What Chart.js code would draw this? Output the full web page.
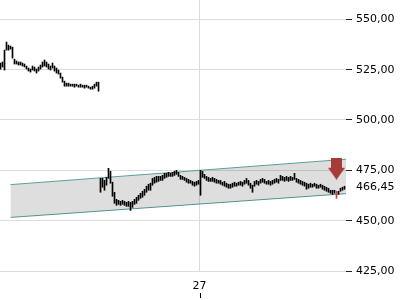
<!DOCTYPE html>
<html>
<head>
<meta charset="utf-8">
<script src="https://cdn.jsdelivr.net/npm/chart.js@4"></script>
<style>
html, body { margin: 0; padding: 0; background: #fff; }
</style>
</head>
<body>
<canvas id="priceChart" width="400" height="300"></canvas>
<script>
// intraday bars, one entry per bar (high / low)
const highs = [
    528.3, 528.8, 534.7, 538.7, 537.2, 536.7, 536.2, 530.2, 529.3, 528.8,
    528.8, 528.3, 527.8, 526.8, 525.8, 525.3, 526.8, 526.3, 525.3, 526.3,
    527.3, 528.8, 529.8, 528.8, 527.8, 526.8, 528.3, 526.8, 525.8, 524.8,
    523.3, 521.3, 519.3, 518.3, 518.3, 517.8, 517.8, 517.8, 517.8, 517.3,
    517.8, 517.3, 517.3, 517.3, 516.8, 516.3, 516.8, 517.8, 518.8, 518.8,
    471.0, 471.0, 470.0, 471.5, 476.0, 474.5, 469.1, 464.1, 460.6, 460.1,
    459.6, 460.1, 459.6, 459.1, 459.6, 459.1, 459.6, 460.6, 461.6, 462.6,
    463.6, 464.6, 465.6, 467.1, 468.1, 468.6, 471.0, 471.5, 472.0, 472.0,
    472.0, 472.5, 473.5, 473.5, 474.0, 473.5, 474.0, 474.5, 475.0, 474.0,
    472.5, 472.0, 471.5, 471.0, 470.5, 470.0, 469.5, 469.1, 469.5, 470.0,
    475.0, 474.5, 473.0, 472.0, 471.5, 471.0, 471.5, 471.0, 470.5, 470.0,
    470.0, 469.1, 469.5, 468.6, 468.1, 468.1, 468.6, 469.1, 468.6, 469.1,
    469.5, 469.1, 470.0, 471.0, 470.0, 468.6, 467.6, 469.5, 470.0, 469.5,
    470.5, 471.0, 470.5, 469.5, 470.0, 469.5, 470.0, 470.5, 471.0, 470.5,
    472.5, 472.0, 471.5, 472.0, 471.5, 472.0, 471.5, 473.5, 471.0, 470.5,
    470.0, 469.5, 469.1, 468.6, 468.1, 468.6, 468.1, 468.6, 468.1, 467.6,
    468.1, 467.6, 467.1, 466.6, 466.1, 465.1, 465.1, 465.1, 464.6, 464.6,
    466.1, 466.6, 467.1
];
const lows = [
    525.3, 526.3, 524.8, 534.7, 534.7, 535.2, 530.7, 527.8, 527.8, 527.3,
    527.3, 526.8, 526.3, 525.3, 524.3, 523.8, 524.8, 524.3, 523.3, 524.3,
    525.3, 526.3, 526.8, 526.3, 525.3, 524.8, 525.8, 524.3, 523.3, 522.8,
    520.8, 518.8, 516.8, 516.8, 516.8, 516.8, 516.8, 516.3, 516.8, 516.3,
    516.3, 516.3, 515.8, 516.3, 515.8, 515.3, 515.3, 515.8, 516.8, 514.3,
    464.1, 466.6, 465.1, 467.6, 471.0, 468.6, 462.1, 458.6, 457.6, 458.1,
    457.6, 458.1, 457.6, 457.1, 457.1, 455.1, 456.6, 458.1, 458.6, 460.1,
    461.1, 461.6, 462.6, 464.1, 465.1, 465.1, 467.6, 468.6, 469.1, 469.5,
    470.0, 470.0, 471.0, 471.5, 472.0, 472.0, 472.0, 472.5, 473.0, 472.0,
    470.5, 470.5, 470.0, 469.1, 468.6, 468.6, 467.6, 467.1, 467.6, 468.1,
    462.6, 471.5, 471.0, 470.0, 469.5, 469.5, 469.5, 469.1, 468.6, 468.6,
    468.1, 467.6, 467.1, 466.6, 466.1, 466.1, 466.6, 467.1, 467.1, 467.6,
    467.6, 467.1, 468.1, 468.6, 467.6, 466.1, 464.1, 467.1, 468.1, 467.6,
    468.6, 469.1, 468.6, 468.1, 468.1, 467.6, 468.1, 468.6, 469.1, 468.6,
    470.0, 470.0, 469.5, 470.0, 469.5, 470.0, 470.0, 470.5, 469.1, 468.6,
    468.1, 467.6, 467.1, 465.6, 466.1, 466.6, 466.6, 467.1, 466.1, 466.1,
    466.6, 465.6, 465.1, 464.6, 464.1, 463.6, 463.1, 463.6, 461.1, 463.1,
    464.6, 465.1, 465.6
];

const signalBar = 168;       // bar marked by the sell arrow
const arrowValue = 475.8;
const lastPrice = 466.45;
const dayStart = 99.5;       // session boundary
const dayLabel = '27';
const yTicks = [425, 450, 475, 500, 525, 550];

// trend channel
const channelX = [5, 172.75];
const channelUpper = [467.9, 480.5];
const channelLower = [451.6, 463.4];

Chart.defaults.font.family = '"DejaVu Sans", sans-serif';
Chart.defaults.font.size = 11;
Chart.defaults.color = '#000';

const bars = highs.map((h, i) => ({ x: i, y: [lows[i], h] }));
const upper = channelX.map((x, i) => ({ x: x, y: channelUpper[i] }));
const lower = channelX.map((x, i) => ({ x: x, y: channelLower[i] }));

function makeArrow() {
    const c = document.createElement('canvas');
    c.width = 17;
    c.height = 22;
    const g = c.getContext('2d');
    g.fillStyle = '#a63b37';
    g.fillRect(3, 0, 11, 11);
    g.beginPath();
    g.moveTo(0, 10);
    g.lineTo(17, 10);
    g.lineTo(8.5, 22);
    g.closePath();
    g.fill();
    return c;
}

// small tick under the date label
const dayTick = {
    id: 'dayTick',
    afterDraw(chart) {
        const sx = chart.scales.x;
        const x = Math.round(sx.getPixelForValue(dayStart)) + 0.5;
        const g = chart.ctx;
        g.save();
        g.strokeStyle = '#000';
        g.lineWidth = 1;
        g.beginPath();
        g.moveTo(x, sx.bottom - 7);
        g.lineTo(x, sx.bottom - 2);
        g.stroke();
        g.restore();
    }
};

const ctx = document.getElementById('priceChart').getContext('2d');
new Chart(ctx, {
    type: 'bar',
    data: {
        datasets: [{
            type: 'bar',
            data: bars,
            backgroundColor: c => c.dataIndex === signalBar ? '#c8403a' : '#000',
            barThickness: 1,
            grouped: false,
            order: 1
        }, {
            type: 'line',
            data: upper,
            borderColor: '#5b9e9c',
            borderWidth: 1,
            pointRadius: 0,
            pointHoverRadius: 0,
            fill: '+1',
            backgroundColor: 'rgba(0,0,0,0.13)',
            order: 3
        }, {
            type: 'line',
            data: lower,
            borderColor: '#5b9e9c',
            borderWidth: 1,
            pointRadius: 0,
            pointHoverRadius: 0,
            fill: false,
            order: 3
        }, {
            type: 'line',
            data: [{ x: signalBar, y: arrowValue }],
            showLine: false,
            pointStyle: makeArrow(),
            order: 0
        }]
    },
    options: {
        responsive: false,
        animation: false,
        devicePixelRatio: 1,
        layout: { padding: 0, autoPadding: false },
        plugins: {
            legend: { display: false },
            tooltip: { enabled: false }
        },
        scales: {
            x: {
                type: 'linear',
                min: -0.25,
                max: 172.75,
                offset: false,
                grid: { offset: false, color: '#dcdcdc', drawTicks: false },
                border: { display: false },
                afterBuildTicks: s => { s.ticks = [{ value: dayStart }]; },
                afterFit: s => {
                    s.height = 29;
                    s.paddingLeft = 0;
                    s.paddingRight = 0;
                },
                ticks: {
                    callback: () => dayLabel,
                    padding: 9,
                    maxRotation: 0
                }
            },
            y: {
                position: 'right',
                min: 425,
                max: 559.6,
                afterBuildTicks: s => {
                    s.ticks = yTicks.concat([lastPrice]).sort((a, b) => a - b).map(v => ({ value: v }));
                },
                afterFit: s => {
                    s.width = 54;
                    s.paddingTop = 0;
                    s.paddingBottom = 0;
                },
                grid: {
                    color: c => c.tick && c.tick.value === lastPrice ? 'rgba(0,0,0,0)' : '#dcdcdc',
                    tickColor: c => c.tick && c.tick.value === lastPrice ? 'rgba(0,0,0,0)' : '#222',
                    tickLength: 6
                },
                border: { display: false },
                ticks: {
                    callback: v => v.toFixed(2).replace('.', ','),
                    padding: 4
                }
            }
        }
    },
    plugins: [dayTick]
});
</script>
</body>
</html>
